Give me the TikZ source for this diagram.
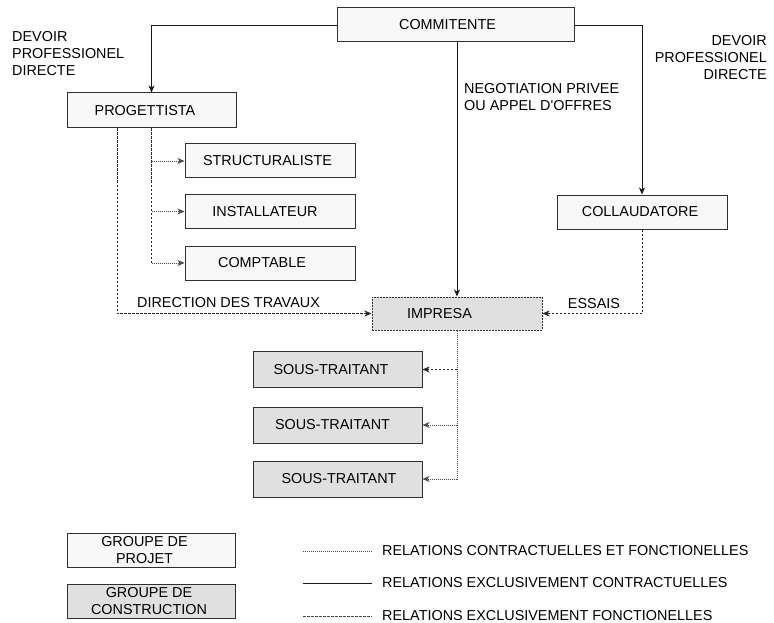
\documentclass[tikz,border=0pt]{standalone}
\usepackage{fontspec}
\setmainfont{Liberation Sans}
\usetikzlibrary{arrows.meta}
\definecolor{edge}{HTML}{303030}
\definecolor{projfill}{HTML}{F8F8F8}
\definecolor{consfill}{HTML}{E0E0E0}
\begin{document}
\begin{tikzpicture}[x=1pt,y=-1pt,
  font=\fontsize{14.4}{17}\selectfont,
  box/.style={draw=edge, line width=1pt, minimum width=170pt, minimum height=34pt, inner sep=0pt},
  projbox/.style={box, fill=projfill},
  consbox/.style={box, fill=consfill},
  note/.style={inner sep=0pt},
  tip/.style={-{Stealth[length=7pt,width=6pt,inset=2pt]}},
  contract/.style={tip, draw=black!90, line width=0.9pt},
  funcdash/.style={draw=black!85, line width=0.9pt, dash pattern=on 2.5pt off 1.5pt},
  funcdot/.style={draw=black!70, line width=0.9pt, dash pattern=on 1.2pt off 0.8pt},
]
\path[use as bounding box] (0,0) rectangle (774,623);

% project group
\node[projbox, minimum width=237pt, label={[xshift=-8pt]center:COMMITENTE}] (commit) at (455.5,25) {};
\node[projbox, minimum width=169pt, minimum height=35pt, label={[xshift=-6.5pt]center:PROGETTISTA}] (prog) at (151.5,110.5) {};
\node[projbox, label={[xshift=-2.5pt]center:STRUCTURALISTE}] (struct) at (270,161) {};
\node[projbox, label={[xshift=-5pt]center:INSTALLATEUR}] (install) at (270,211.5) {};
\node[projbox, label={[xshift=-8pt]center:COMPTABLE}] (compt) at (270,263) {};
\node[projbox, label={[xshift=-2pt]center:COLLAUDATORE}] (collaud) at (642,212) {};

% construction group
\node[consbox, minimum height=33pt, dash pattern=on 2pt off 1pt, label={[xshift=-17.5pt]center:IMPRESA}] (impresa) at (457,313.5) {};
\node[consbox, minimum width=169pt, minimum height=36pt, label={[xshift=-6.5pt]center:SOUS-TRAITANT}] (st1) at (337.5,369.5) {};
\node[consbox, minimum width=169pt, minimum height=36pt, label={[xshift=-5pt]center:SOUS-TRAITANT}] (st2) at (337.5,425) {};
\node[consbox, minimum width=169pt, minimum height=36pt, label={[xshift=1.5pt]center:SOUS-TRAITANT}] (st3) at (337.5,479) {};

% free labels
\node[note, anchor=west, align=left] (devoirL) at (12,54) {DEVOIR\\PROFESSIONEL\\DIRECTE};
\node[note, anchor=east, align=right] (devoirR) at (767,58) {DEVOIR\\PROFESSIONEL\\DIRECTE};
\node[note, anchor=west, align=left] (nego) at (464,97.5) {NEGOTIATION PRIVEE\\OU APPEL D\textquotesingle OFFRES};
\node[note, anchor=west] (dirtrav) at (137,303) {DIRECTION DES TRAVAUX};
\node[note] (essais) at (594,304) {ESSAIS};

% contractual links from the client
\draw[contract] (commit.west) -| (prog.north);
\draw[contract] (commit.east) -| (collaud.north);
\draw[contract] (impresa.north |- commit.south) -- (impresa.north);

% site direction and testing
\draw[funcdash, tip] ([xshift=-34.5pt]prog.south) |- (impresa.west);
\draw[funcdash, tip] (collaud.south) |- (impresa.east);

% consultants of the designer
\coordinate (ptrunk) at (prog.south |- compt.west);
\draw[funcdash] (prog.south) -- (ptrunk);
\draw[funcdot, tip] (prog.south |- struct.west) -- (struct.west);
\draw[funcdot, tip] (prog.south |- install.west) -- (install.west);
\draw[funcdot, tip] (ptrunk) -- (compt.west);

% subcontractors
\coordinate (itrunk) at (impresa.south |- st3.east);
\draw[funcdot] (impresa.south) -- (itrunk);
\draw[funcdash, tip] (impresa.south |- st1.east) -- (st1.east);
\draw[funcdot, tip] (impresa.south |- st2.east) -- (st2.east);
\draw[funcdot, tip] (itrunk) -- (st3.east);

% legend
\node[projbox, minimum width=168pt, label={[xshift=-6.5pt, align=center]center:GROUPE DE\\PROJET}] (legproj) at (151,550) {};
\node[consbox, minimum width=168pt, label={[xshift=-2pt, align=center]center:GROUPE DE\\CONSTRUCTION}] (legcons) at (151,601) {};

\coordinate (la1) at (303,551); \coordinate (lb1) at (372,551);
\coordinate (la2) at (303,583); \coordinate (lb2) at (372,583);
\coordinate (la3) at (303,616); \coordinate (lb3) at (372,616);
\draw[draw=black!70, line width=0.9pt, dash pattern=on 1pt off 1pt] (la1) -- (lb1);
\draw[draw=black!90, line width=0.9pt] (la2) -- (lb2);
\draw[draw=black!75, line width=0.9pt, dash pattern=on 3pt off 1pt] (la3) -- (lb3);
\node[note, anchor=west] (leg1) at (382,551) {RELATIONS CONTRACTUELLES ET FONCTIONELLES};
\node[note, anchor=west] (leg2) at (382,583) {RELATIONS EXCLUSIVEMENT CONTRACTUELLES};
\node[note, anchor=west] (leg3) at (382,616) {RELATIONS EXCLUSIVEMENT FONCTIONELLES};
\end{tikzpicture}
\end{document}
